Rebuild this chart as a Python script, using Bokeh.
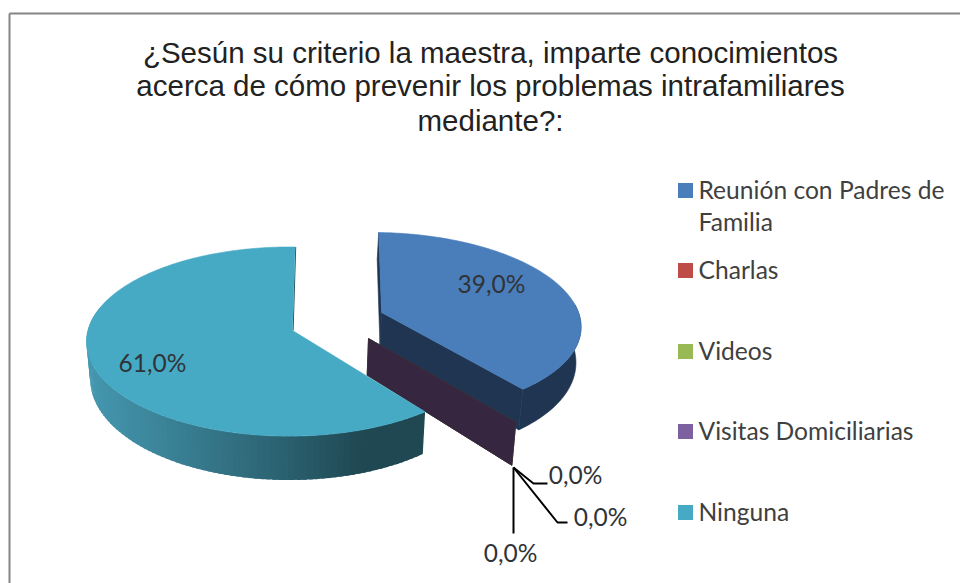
import math
from bokeh.plotting import figure
from bokeh.models import Range1d
from bokeh.core.properties import value
from bokeh.embed import file_html
from bokeh.resources import INLINE

# --- data ---
categories = ["Reunión con Padres de Familia", "Charlas", "Videos", "Visitas Domiciliarias", "Ninguna"]
shares = [39.0, 0.0, 0.0, 0.0, 61.0]
title_lines = ["¿Sesún su criterio la maestra, imparte conocimientos",
               "acerca de cómo prevenir los problemas intrafamiliares",
               "mediante?:"]

# --- style ---
colors = ["#4a7ebb", "#be4b48", "#98b954", "#7d60a0", "#46aac5"]
face_colors = ["#1f3552", "#552220", "#44532a", "#36263f", "#1f4853"]
first_angle = 1.7
explode = [(0.449, -0.194), (0.368, 0.084), (0.368, 0.084), (0.368, 0.084), (-0.015, 0.004)]
radius = [0.98, 1.0, 1.0, 1.0, 0.985]
apex = [(0.445, -0.194), (0.368, 0.084), (0.368, 0.084), (0.368, 0.084), (0.0, 0.0)]
X0, Y0, K, KY, A = 292.0, 330.0, 204.6, 94.7, 0.1146
FONT = "Lato"

W, H = 960, 583
p = figure(width=W, height=H, x_range=Range1d(0, W), y_range=Range1d(H, 0),
           output_backend="svg", toolbar_location=None, min_border=0, outline_line_color=None,
           background_fill_color="white", border_fill_color="white")
p.axis.visible = False
p.grid.visible = False


def top(u, v):
    d = 1 - A * v
    return X0 + K * u / d, Y0 + KY * v / d


def bottom(u, v):
    d = (1 - A * v) * 1.018
    _, y = top(u, v)
    return X0 + K * u / d, y + 36 + 8 * v


def rim(angle, i):
    r = math.radians(angle)
    return explode[i][0] + radius[i] * math.sin(r), explode[i][1] - radius[i] * math.cos(r)


def arc(a0, a1, i, fn):
    n = max(2, int(abs(a1 - a0)) + 2)
    return [fn(*rim(a0 + (a1 - a0) * k / (n - 1), i)) for k in range(n)]


def mix(c0, c1, t):
    a = [int(c0[i:i + 2], 16) for i in (1, 3, 5)]
    b = [int(c1[i:i + 2], 16) for i in (1, 3, 5)]
    return "#%02x%02x%02x" % tuple(round(x + (y - x) * t) for x, y in zip(a, b))


def poly(pts, color):
    p.patch([q[0] for q in pts], [q[1] for q in pts], fill_color=color, line_color=color, line_width=0.6)


# slice angle spans, clockwise from twelve o'clock
spans = []
ang = first_angle
for s in shares:
    spans.append((ang, ang + s * 3.6))
    ang += s * 3.6

# Reunión: back face, outer wall, cut face, top
a0, a1 = spans[0]
c = apex[0]
poly([top(*rim(a0, 0)), top(*c), bottom(*c), bottom(*rim(a0, 0))], face_colors[0])
poly(arc(85, a1, 0, top) + arc(a1, 85, 0, bottom), face_colors[0])
poly([top(*c), top(*rim(a1, 0)), bottom(*rim(a1, 0)), bottom(*c)], face_colors[0])
poly([top(*c)] + arc(a0, a1, 0, top), colors[0])

# empty slices: only their cut face shows
for i in (1, 2, 3):
    a0, a1 = spans[i]
    c = apex[i]
    poly([top(*c), top(*rim(a1, i)), bottom(*rim(a1, i)), bottom(*c)], face_colors[i])

# Ninguna: shaded outer wall and top
a0, a1 = spans[4]
c = apex[4]
xs, ys, cs = [], [], []
steps = 90
w0, w1 = a0, 285.0
for k in range(steps):
    b0 = w0 + (w1 - w0) * k / steps
    b1 = w0 + (w1 - w0) * (k + 1.6) / steps
    q = [top(*rim(b0, 4)), top(*rim(b1, 4)), bottom(*rim(b1, 4)), bottom(*rim(b0, 4))]
    xs.append([e[0] for e in q])
    ys.append([e[1] for e in q])
    xm = sum(e[0] for e in q) / 4
    t = min(1, max(0, (xm - 90) / 270))
    cs.append(mix("#4497af", "#2f6a7a", t / 0.6) if t < 0.6 else mix("#2f6a7a", "#1f4853", (t - 0.6) / 0.4))
p.patches(xs, ys, fill_color=cs, line_color=None)
edge = [top(*rim(a1, 4)), top(*c)]
p.line([e[0] + 0.6 for e in edge], [e[1] for e in edge], line_color="#1f4853", line_width=1)
poly([top(*c)] + arc(a0, a1, 4, top), colors[4])

# leader lines of the empty slices
lc = "#000000"
p.line([513, 533, 547], [467, 483, 483], line_color=lc, line_width=2)
p.line([513, 557, 567], [467, 522, 522], line_color=lc, line_width=2)
p.line([513, 513], [467, 533], line_color=lc, line_width=2)


def fmt(v):
    return f"{v:.1f}%".replace(".", ",")


label_pos = [(491, 283), (575, 474), (600, 516), (510, 552), (152, 362)]
p.text([q[0] for q in label_pos], [q[1] for q in label_pos], text=[fmt(s) for s in shares],
       text_font=value(FONT), text_font_size="24.5px", text_color="#303338",
       text_align="center", text_baseline="middle")

# title
p.text([490] * 3, [52, 85, 120], text=title_lines, text_font=value("Liberation Sans"),
       text_font_size="29.5px", text_color="#222222", text_align="center", text_baseline="middle")

# legend
leg_y = [190, 270, 351, 431, 512]
p.rect([685] * 5, leg_y, width=15, height=15, fill_color=colors, line_color=None)
words = categories[0].split(" ")
rows = [" ".join(words[:-1]), words[-1]] + categories[1:]
row_y = [189, 221, 269, 350, 430, 511]
p.text([698] * len(rows), row_y, text=rows, text_font=value(FONT), text_font_size="24.6px",
       text_color="#404040", text_align="left", text_baseline="middle")

# frame of the chart area
p.line([9, 9], [H, 13], line_color="#858585", line_width=2)
p.line([9, W], [13, 13], line_color="#858585", line_width=2)

open("out.html", "w").write(file_html(p, INLINE))
